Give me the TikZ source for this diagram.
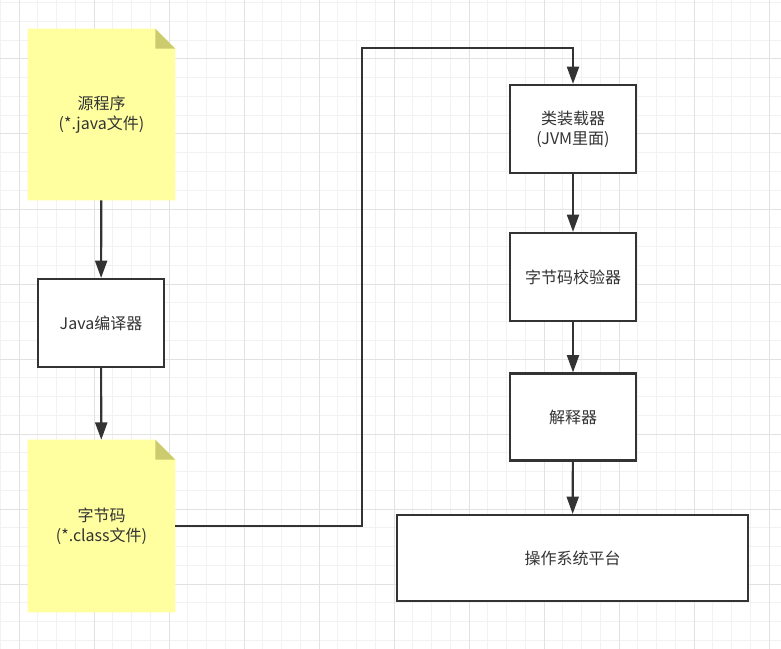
\documentclass[tikz,border=0pt]{standalone}
\usepackage{fontspec}
\usepackage{tikz}
\usetikzlibrary{arrows.meta,backgrounds}
\newfontfamily\cjk{Noto Sans CJK SC}
\definecolor{noteyellow}{RGB}{255, 255, 160}
\definecolor{notefold}{RGB}{204, 204, 110}
\definecolor{dgray}{RGB}{51, 51, 51}
\definecolor{gridL}{RGB}{242, 242, 242}
\definecolor{gridH}{RGB}{226, 226, 226}

\begin{document}
\begin{tikzpicture}[x = 0.75pt, y = -0.75pt,
			txt/.style = {font = \cjk\fontsize{12}{15}\selectfont, text = dgray, align = center, inner sep = 0pt},
			note/.style = {txt, minimum width = 110.25pt, minimum height = 128.25pt},
			box/.style = {txt, draw = dgray, line width = 1.6pt, fill = white, minimum width = 94.5pt, minimum height = 66pt},
			flow/.style = {draw = dgray, line width = 1.6pt, -{Triangle[length = 13pt, width = 9pt]}}]
			\useasboundingbox (0,0) rectangle (781,649);
			\node (src) at (101.5,114.5) [note] {源程序\\(*.java文件)};
			\node (cls) at (101.5,526) [note, minimum height = 129pt] {字节码\\(*.class文件)};
			\node (jc) at (101,323) [box] {Java编译器};
			\node (load) at (573,129) [box] {类装载器\\(JVM里面)};
			\node (check) at (573,277) [box] {字节码校验器};
			\node (interp) at (573,417) [box, minimum height = 65.25pt] {解释器};
			\node (os) at (572.5,558) [box, minimum width = 263.25pt, minimum height = 64.5pt] {操作系统平台};
			\coordinate (bend) at (362,48);
			\begin{scope}[on background layer]
			\foreach \k in {0,...,41} \draw[gridL, line width = 0.75pt] ({0.25+18.75*\k},0) -- ({0.25+18.75*\k},649);
			\foreach \k in {0,...,34} \draw[gridL, line width = 0.75pt] (0,{2.75+18.75*\k}) -- (781,{2.75+18.75*\k});
			\foreach \k in {0,...,10} \draw[gridH, line width = 0.75pt] ({19+75*\k},0) -- ({19+75*\k},649);
			\foreach \k in {0,...,7} \draw[gridH, line width = 0.75pt] (0,{59+75*\k}) -- (781,{59+75*\k});
			\foreach \n in {src, cls} {
				\fill[noteyellow] (\n.south west) -- (\n.north west) -- ([xshift = -15pt]\n.north east) -- ([yshift = -15pt]\n.north east) -- (\n.south east) -- cycle;
				\fill[notefold] ([xshift = -15pt]\n.north east) -- ([xshift = -15pt, yshift = -15pt]\n.north east) -- ([yshift = -15pt]\n.north east) -- cycle;
			}
			\end{scope}
			\draw[flow] (src) -- (jc);
			\draw[flow] (jc) -- (cls);
			\draw[flow] (cls.east) -| (bend) -| (load.north);
			\draw[flow] (load) -- (check);
			\draw[flow] (check) -- (interp);
			\draw[flow] (interp) -- (os);
			\end{tikzpicture}
\end{document}
